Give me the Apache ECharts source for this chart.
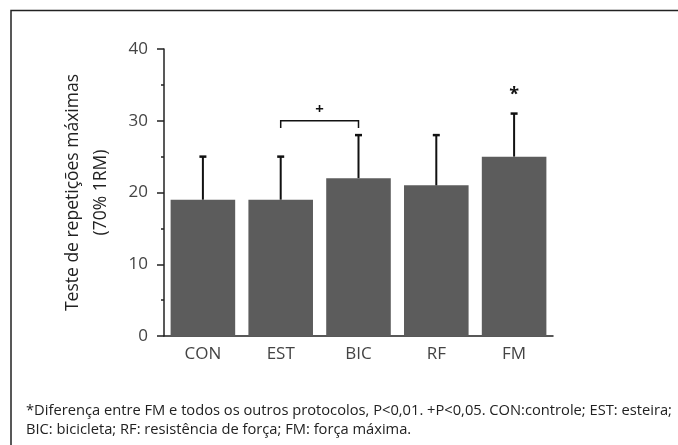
<!DOCTYPE html>
<html><head><meta charset="utf-8">
<script src="https://cdn.jsdelivr.net/npm/echarts@6/dist/echarts.min.js"></script>
<style>html,body{margin:0;padding:0;background:#fff}#c{width:678px;height:445px}</style>
</head><body><div id="c"></div>
<script>
// ---- data ----
const categories = ['CON', 'EST', 'BIC', 'RF', 'FM'];
const means = [19, 19, 22, 21, 25];
const upperSD = [25, 25, 28, 28, 31];
const yTickValues = [0, 10, 20, 30, 40];
const bracketCats = [1, 2];      // EST – BIC
const bracketLevels = [30, 29];  // top, end drop
const plusLabelY = 31.5;
const starCat = 4;               // FM
const starY = 33.6;
const yName = 'Teste de repetições máximas\n(70% 1RM)';
const footnote1 = '*Diferença entre FM e todos os outros protocolos, P<0,01. +P<0,05. CON:controle; EST: esteira;';
const footnote2 = 'BIC: bicicleta; RF: resistência de força; FM: força máxima.';

const FONT = '"Open Sans", sans-serif';
const chart = echarts.init(document.getElementById('c'), null, {renderer: 'canvas'});

const errData = categories.map((c, i) => [i, means[i], upperSD[i]]);

chart.setOption({
  animation: false,
  grid: {left: 164, right: 125, top: 49, bottom: 109},
  xAxis: [{
    type: 'category', data: categories, gridIndex: 0,
    axisLine: {lineStyle: {color: '#222', width: 1.5}},
    axisTick: {alignWithLabel: true, length: 5, lineStyle: {color: '#222', width: 1.5}},
    axisLabel: {color: '#444', fontSize: 17, fontFamily: FONT, margin: 10}
  }, {
    type: 'category', data: categories, gridIndex: 0, position: 'bottom',
    axisLine: {show: false},
    axisTick: {length: 3, lineStyle: {color: '#222', width: 1.5}},
    axisLabel: {show: false}
  }],
  yAxis: {
    type: 'value', min: 0, max: 40, interval: 10,
    name: yName, nameLocation: 'middle', nameRotate: 90, nameGap: 49,
    nameTextStyle: {color: '#222', fontSize: 17.5, fontFamily: FONT, lineHeight: 28},
    axisLine: {show: true, lineStyle: {color: '#222', width: 1.5}},
    axisTick: {show: true, length: 7, lineStyle: {color: '#222', width: 1.5}},
    minorTick: {show: true, splitNumber: 2, length: 3, lineStyle: {color: '#222', width: 1.5}},
    axisLabel: {color: '#444', fontSize: 17, fontFamily: FONT, margin: 16,
      formatter: v => yTickValues.includes(v) ? String(v) : ''},
    splitLine: {show: false}
  },
  series: [{
    type: 'bar', data: means, barWidth: '83%', xAxisIndex: 0,
    itemStyle: {color: '#5c5c5c'}, z: 2
  }, {
    type: 'custom', data: errData, z: 3, xAxisIndex: 0,
    renderItem: (params, api) => {
      const p0 = api.coord([api.value(0), api.value(1)]);
      const p1 = api.coord([api.value(0), api.value(2)]);
      return {type: 'group', children: [
        {type: 'line', shape: {x1: p0[0], y1: p0[1], x2: p1[0], y2: p1[1]}, style: {stroke: '#111', lineWidth: 2}},
        {type: 'line', shape: {x1: p1[0] - 3.5, y1: p1[1], x2: p1[0] + 3.5, y2: p1[1]}, style: {stroke: '#111', lineWidth: 2.5}}
      ]};
    }
  }, {
    type: 'custom', data: [[bracketCats[0], bracketCats[1], bracketLevels[0], bracketLevels[1], plusLabelY]], z: 3, xAxisIndex: 0,
    renderItem: (params, api) => {
      const a0 = api.coord([api.value(0), api.value(3)]);
      const a1 = api.coord([api.value(0), api.value(2)]);
      const b1 = api.coord([api.value(1), api.value(2)]);
      const b0 = api.coord([api.value(1), api.value(3)]);
      const ly = api.coord([api.value(0), api.value(4)])[1];
      return {type: 'group', children: [
        {type: 'polyline', shape: {points: [a0, a1, b1, b0]}, style: {stroke: '#111', lineWidth: 1.5, fill: null}},
        {type: 'text', style: {text: '+', x: (a1[0] + b1[0]) / 2, y: ly, align: 'center', verticalAlign: 'middle',
          fontSize: 15, fontWeight: 'bold', fontFamily: FONT, fill: '#111'}}
      ]};
    }
  }, {
    type: 'custom', data: [[starCat, starY]], z: 3, xAxisIndex: 0,
    renderItem: (params, api) => {
      const p = api.coord([api.value(0), api.value(1)]);
      return {type: 'text', style: {text: '*', x: p[0], y: p[1], align: 'center', verticalAlign: 'middle',
        fontSize: 18, fontWeight: 'bold', fontFamily: FONT, fill: '#111'}};
    }
  }],
  graphic: [
    {type: 'polyline', shape: {points: [[11, 445], [11, 10.5], [678, 10.5]]}, style: {stroke: '#222', lineWidth: 1.5, fill: null}},
    {type: 'text', left: 26, top: 403, style: {text: footnote1, fontSize: 14.7, fontFamily: FONT, fill: '#222'}},
    {type: 'text', left: 26, top: 422, style: {text: footnote2, fontSize: 14.7, fontFamily: FONT, fill: '#222'}}
  ]
});
</script>
</body></html>
